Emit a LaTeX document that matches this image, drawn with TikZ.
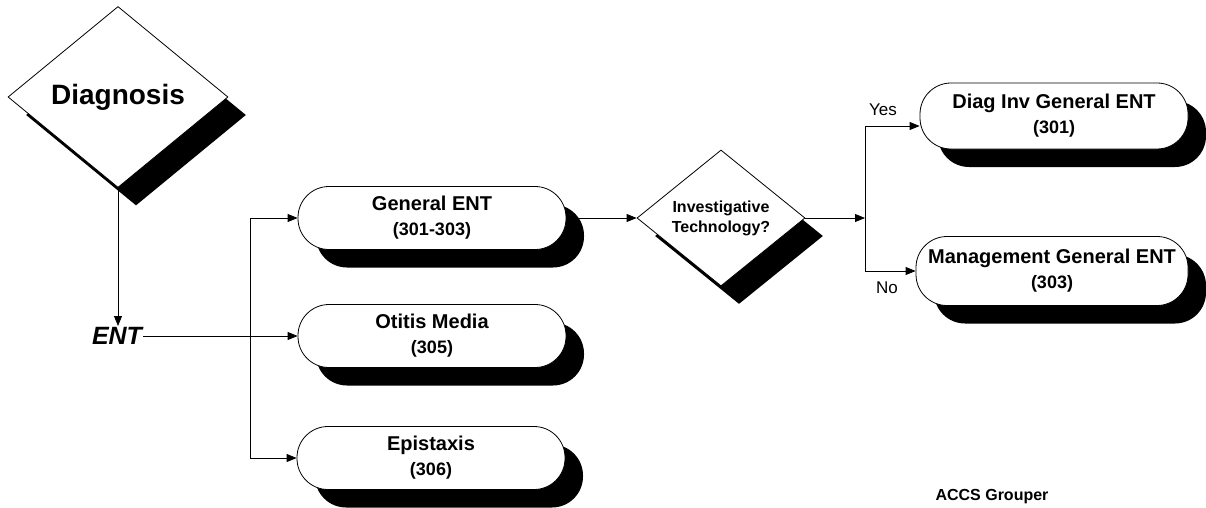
\documentclass[tikz,border=0pt]{standalone}
\usepackage{fontspec}
\setmainfont{Liberation Sans}
\usetikzlibrary{
    arrows.meta,
    shapes.geometric,
    shadows,
    positioning
}
\newcommand{\grpno}[1]{{\fontsize{18}{25}\selectfont(#1)}}
\tikzset{
    shadebox/.style={drop shadow={shadow xshift=18pt, shadow yshift=-18pt, fill=black, opacity=1}},
    groupbox/.style={draw, fill=white, rounded corners=31pt, minimum width=268pt, minimum height=63pt, inner sep=0pt, align=center, font=\bfseries\fontsize{20}{25}\selectfont, shadebox},
    decision/.style={draw, fill=white, diamond, inner sep=0pt, align=center, shadebox},
    flow/.style={-{Triangle[length=10pt, width=8pt]}}
}

\begin{document}
\begin{tikzpicture}[x=1pt, y=-1pt, line width=0.8pt]
    \useasboundingbox (0,0) rectangle (1206,508);

    \node[decision, minimum width=220pt, minimum height=181pt, font=\bfseries\fontsize{28}{28}\selectfont] (diag) at (118,97) {Diagnosis};
    \node[font=\bfseries\itshape\fontsize{25}{25}\selectfont, inner sep=1pt] (ent) at (117,336) {ENT};

    \node[groupbox] (gent) at (432,218) {General ENT\\\grpno{301-303}};
    \node[groupbox] (otitis) at (432,336) {Otitis Media\\\grpno{305}};
    \node[groupbox] (epis) at (431,458) {Epistaxis\\\grpno{306}};

    \node[decision, minimum width=168pt, minimum height=136pt, font=\bfseries\fontsize{16}{20}\selectfont] (inv) at (721,218) {Investigative\\Technology?};

    \node[groupbox, minimum height=66pt] (diaginv) at (1054,116) {Diag Inv General ENT\\\grpno{301}};
    \node[groupbox, minimum width=272pt, minimum height=69pt] (mgmt) at (1052,271) {Management General ENT\\\grpno{303}};

    \node[font=\fontsize{17}{17}\selectfont] (yes) at (883,110) {Yes};
    \node[font=\fontsize{17}{17}\selectfont] (no) at (887,288) {No};
    \node[font=\bfseries\fontsize{16}{16}\selectfont] (grouper) at (992,497) {ACCS Grouper};

    \coordinate (fork) at (250,336);
    \coordinate (split) at (865,218);
    \coordinate (yesin) at ([yshift=-10pt]diaginv.west);

    \draw
    (diag.south) edge[flow] (diag.south |- ent.north)
    (ent.east) edge[flow] (otitis.west)
    (fork |- gent.west) edge (fork |- epis.west)
    (fork |- gent.west) edge[flow] (gent.west)
    (fork |- epis.west) edge[flow] (epis.west)
    (gent.east) edge[flow] (inv.west)
    (inv.east) edge[flow] (split)
    (split |- yesin) edge (split |- mgmt.west)
    (split |- yesin) edge[flow] (yesin)
    (split |- mgmt.west) edge[flow] (mgmt.west);
\end{tikzpicture}
\end{document}
